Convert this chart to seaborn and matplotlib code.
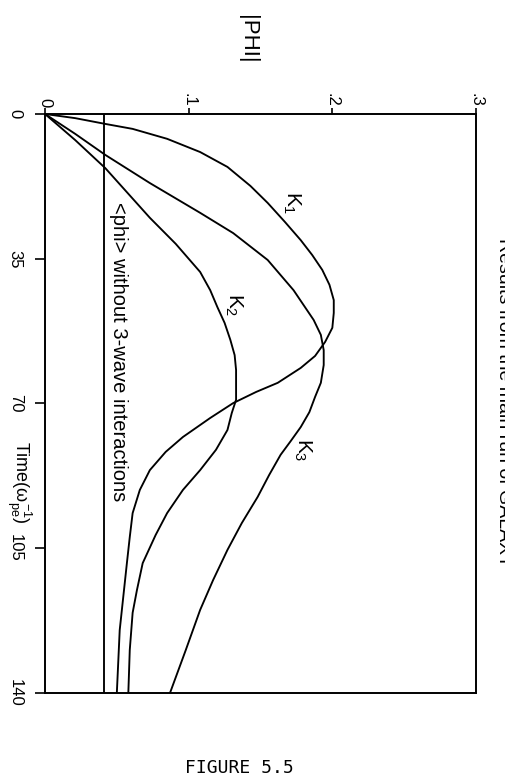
import matplotlib
matplotlib.use("Agg")
import matplotlib.pyplot as plt
import seaborn as sns
import pandas as pd

# ---- data ----
k1_time = [0.0, 1.0, 2.4, 3.6, 6.0, 9.2, 12.8, 17.4, 21.5, 26.1, 30.5, 34.1, 37.7, 41.3,
           45.0, 48.1, 51.7, 55.1, 58.5, 61.4, 65.0, 67.2, 69.9, 73.5, 78.1, 81.7, 86.1,
           90.9, 96.5, 102.3, 108.6, 124.8, 140.0]
k1_phi = [0.000, 0.021, 0.042, 0.061, 0.085, 0.108, 0.127, 0.143, 0.155, 0.167, 0.178, 0.186,
          0.193, 0.198, 0.201, 0.201, 0.200, 0.195, 0.188, 0.178, 0.162, 0.147, 0.131, 0.115,
          0.096, 0.084, 0.073, 0.066, 0.061, 0.059, 0.057, 0.052, 0.050]

k2_time = [0.0, 6.3, 13.1, 25.1, 31.4, 38.2, 42.6, 46.7, 50.5, 54.6, 58.3, 61.9, 65.5, 69.1,
           72.3, 76.4, 81.2, 86.1, 90.9, 96.5, 101.8, 108.6, 115.1, 120.6, 129.6, 140.0]
k2_phi = [0.000, 0.021, 0.042, 0.073, 0.091, 0.108, 0.115, 0.120, 0.125, 0.129, 0.132, 0.133,
          0.133, 0.133, 0.130, 0.127, 0.119, 0.108, 0.096, 0.085, 0.077, 0.068, 0.064, 0.061,
          0.059, 0.058]

k3_time = [0.0, 4.8, 9.9, 16.7, 23.9, 28.8, 35.3, 42.6, 49.8, 53.4, 57.1, 60.7, 65.0, 68.4,
           72.1, 75.7, 79.1, 82.4, 87.3, 92.6, 98.9, 105.4, 112.7, 119.9, 129.6, 140.0]
k3_phi = [0.000, 0.021, 0.042, 0.073, 0.108, 0.131, 0.155, 0.173, 0.187, 0.192, 0.194, 0.194,
          0.192, 0.188, 0.184, 0.178, 0.171, 0.164, 0.156, 0.148, 0.137, 0.127, 0.117, 0.108,
          0.098, 0.087]

mean_time = [0.0, 140.0]
mean_phi = [0.041, 0.041]

curve_labels = ["$K_1$", "$K_2$", "$K_3$"]
label_time = [21.5, 46.2, 81.2]
label_phi = [0.172, 0.131, 0.179]

phi_ticks = [0.0, 0.1, 0.2, 0.3]
phi_ticklabels = ["0", ".1", ".2", ".3"]
time_ticks = [0, 35, 70, 105, 140]
time_ticklabels = ["0", "35", "70", "105", "140"]

# ---- style ----
sns.set_style("white")
plt.rcParams["font.family"] = ["Liberation Sans", "DejaVu Sans"]
plt.rcParams["mathtext.fontset"] = "custom"
plt.rcParams["mathtext.rm"] = "Liberation Sans"
plt.rcParams["mathtext.it"] = "Liberation Sans"
plt.rcParams["mathtext.sf"] = "Liberation Sans"

W, H = 506, 778
fig = plt.figure(figsize=(W / 100, H / 100), dpi=100)
ax = fig.add_axes([45 / W, (H - 693) / H, (476 - 45) / W, (693 - 114) / H])

df = pd.concat([
    pd.DataFrame({"time": k1_time, "phi": k1_phi, "curve": "K1"}),
    pd.DataFrame({"time": k2_time, "phi": k2_phi, "curve": "K2"}),
    pd.DataFrame({"time": k3_time, "phi": k3_phi, "curve": "K3"}),
    pd.DataFrame({"time": mean_time, "phi": mean_phi, "curve": "mean"}),
])
for name, sub in df.groupby("curve"):
    sns.lineplot(data=sub, x="phi", y="time", sort=False, estimator=None,
                 color="black", lw=1.35, ax=ax, legend=False)

ax.set_xlim(0, 0.3)
ax.set_ylim(140, 0)
ax.set_xlabel("")
ax.set_ylabel("")

for s in ax.spines.values():
    s.set_visible(True)
    s.set_color("black")
    s.set_linewidth(1.4)

ax.xaxis.tick_top()
ax.set_xticks(phi_ticks, phi_ticklabels)
ax.set_yticks(time_ticks, time_ticklabels)
ax.tick_params(axis="x", top=True, bottom=False, labeltop=True, labelbottom=False,
               direction="out", length=4, width=1.2, pad=1, labelsize=12, colors="black")
ax.tick_params(axis="y", left=True, right=False, direction="out", length=7, width=1.2,
               pad=9, labelsize=12, colors="black")
for lbl in ax.get_xticklabels():
    lbl.set_rotation(-90)
    lbl.set_va("bottom")
    lbl.set_ha("center")
for lbl in ax.get_yticklabels():
    lbl.set_rotation(-90)
    lbl.set_va("center")
    lbl.set_ha("right")

# curve labels
for txt, t, p in zip(curve_labels, label_time, label_phi):
    ax.text(p, t, txt, rotation=-90, ha="center", va="center", fontsize=15, color="black")

ax.text(0.0445, 21.3, "<phi> without 3-wave interactions", rotation=-90,
        ha="left", va="top", fontsize=14.5, color="black")

# axis labels and titles
fig.text(248 / W, 1 - 39 / H, "|PHI|", rotation=-90, ha="center", va="center",
         fontsize=16, color="black")
fig.text(19 / W, 1 - 482 / H, r"Time($\omega_{pe}^{-1}$)", rotation=-90,
         ha="center", va="center", fontsize=13, color="black")
fig.text(495 / W, 1 - 403 / H, "Results from the main run of GALAXY", rotation=-90,
         ha="left", va="center", fontsize=14, color="black")
fig.text(239 / W, 1 - 768 / H, "FIGURE 5.5", ha="center", va="center",
         fontsize=13, family="DejaVu Sans Mono", color="black")

fig.savefig("out.png", dpi=100, facecolor="white")
